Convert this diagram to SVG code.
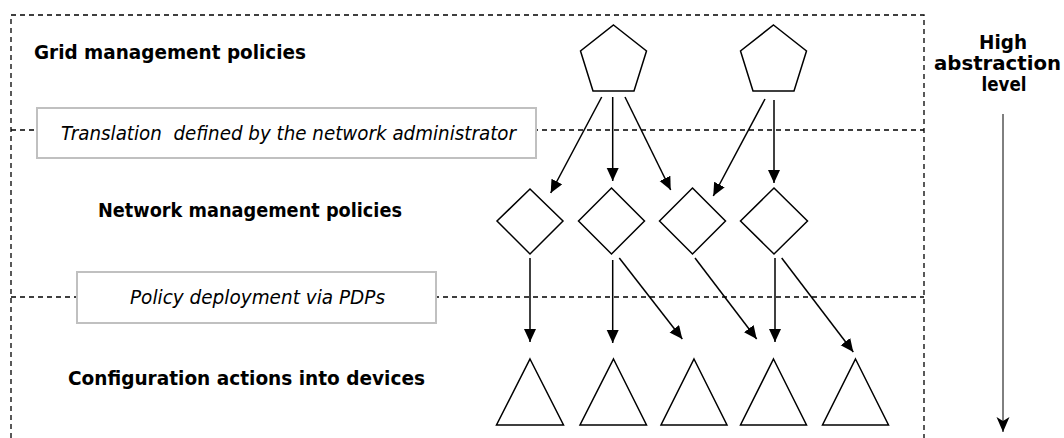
<svg xmlns="http://www.w3.org/2000/svg" width="1064" height="438" viewBox="0 0 1064 438">
<style>
.dash{stroke:#000;stroke-width:1.3;stroke-dasharray:5 4;fill:none}
.lbl{fill:#fff;stroke:#c0c0c0;stroke-width:2}
.shape{fill:#fff;stroke:#000;stroke-width:1.5;stroke-linejoin:miter}
.arr{stroke:#000;stroke-width:1.5;fill:none;marker-end:url(#ah)}
.b{font-family:"DejaVu Sans",Verdana,sans-serif;font-weight:bold;font-size:19.5px;fill:#000}
.i{font-family:"DejaVu Sans",Verdana,sans-serif;font-style:italic;font-size:19.5px;fill:#000;white-space:pre}
</style>
<defs>
<marker id="ah" markerUnits="userSpaceOnUse" markerWidth="14" markerHeight="14" refX="13" refY="6" orient="auto">
<path d="M0,0 L13,6 L0,12 z" fill="#000"/>
</marker>
<marker id="ah2" markerUnits="userSpaceOnUse" markerWidth="16" markerHeight="14" refX="15" refY="6.5" orient="auto">
<path d="M0,0 L15,6.5 L0,13 L4,6.5 z" fill="#000"/>
</marker>
</defs>
<rect width="1064" height="438" fill="#fff"/>
<g id="frame">
<path class="dash" d="M11,438 V15 H924 V438"/>
<line class="dash" x1="11" y1="130" x2="924" y2="130"/>
<line class="dash" x1="11" y1="297" x2="924" y2="297"/>
</g>
<g id="label-translation">
<rect class="lbl" x="37" y="108" width="499" height="50"/>
<text class="i" x="61" y="140" textLength="455" lengthAdjust="spacingAndGlyphs">Translation  defined by the network administrator</text>
</g>
<g id="label-deployment">
<rect class="lbl" x="77" y="272" width="359" height="51"/>
<text class="i" x="130" y="304" textLength="255" lengthAdjust="spacingAndGlyphs">Policy deployment via PDPs</text>
</g>
<g id="level-labels">
<text class="b" x="34" y="59" textLength="272" lengthAdjust="spacingAndGlyphs">Grid management policies</text>
<text class="b" x="98" y="217" textLength="304" lengthAdjust="spacingAndGlyphs">Network management policies</text>
<text class="b" x="68" y="385" textLength="357" lengthAdjust="spacingAndGlyphs">Configuration actions into devices</text>
</g>
<g id="abstraction">
<text class="b" x="1003" y="49" text-anchor="middle" textLength="48" lengthAdjust="spacingAndGlyphs">High</text>
<text class="b" x="997.5" y="70" text-anchor="middle" textLength="127" lengthAdjust="spacingAndGlyphs">abstraction</text>
<text class="b" x="1004" y="91" text-anchor="middle" textLength="45" lengthAdjust="spacingAndGlyphs">level</text>
<line x1="1003" y1="114" x2="1003" y2="432" stroke="#000" stroke-width="1" marker-end="url(#ah2)"/>
</g>
<g id="pentagon1"><polygon class="shape" points="613.5,25 646.5,51 634,91 593,91 580.5,51"/></g>
<g id="pentagon2"><polygon class="shape" points="773.5,25 806.5,51 794,91 753,91 740.5,51"/></g>
<g id="diamond1"><polygon class="shape" points="530,189 563,221 530,254 497,221"/></g>
<g id="diamond2"><polygon class="shape" points="611.5,188 644.5,221 611.5,254 578.5,221"/></g>
<g id="diamond3"><polygon class="shape" points="692.5,188 725.5,221 692.5,254 659.5,221"/></g>
<g id="diamond4"><polygon class="shape" points="774,188 807.5,221 774,254 740.5,221"/></g>
<g id="triangle1"><polygon class="shape" points="530,359 563.5,425 496.5,425"/></g>
<g id="triangle2"><polygon class="shape" points="613.5,359 646.5,425 580,425"/></g>
<g id="triangle3"><polygon class="shape" points="694,359 727,425 661,425"/></g>
<g id="triangle4"><polygon class="shape" points="773.5,359 806.5,425 740.5,425"/></g>
<g id="triangle5"><polygon class="shape" points="855.5,359 888.5,425 822.5,425"/></g>
<g id="connectors">
<line class="arr" x1="601.7" y1="97" x2="550.7" y2="193"/>
<line class="arr" x1="612.7" y1="97" x2="612.7" y2="181"/>
<line class="arr" x1="625" y1="97" x2="670.7" y2="190"/>
<line class="arr" x1="765" y1="99" x2="713.3" y2="196"/>
<line class="arr" x1="774" y1="100" x2="774" y2="183"/>
<line class="arr" x1="530" y1="258" x2="530" y2="342"/>
<line class="arr" x1="612.7" y1="260" x2="612.7" y2="343"/>
<line class="arr" x1="619.3" y1="258" x2="682.3" y2="339"/>
<line class="arr" x1="695" y1="258" x2="756.7" y2="339"/>
<line class="arr" x1="775" y1="258" x2="775" y2="342"/>
<line class="arr" x1="781.7" y1="258" x2="853.3" y2="352"/>
</g>
</svg>
